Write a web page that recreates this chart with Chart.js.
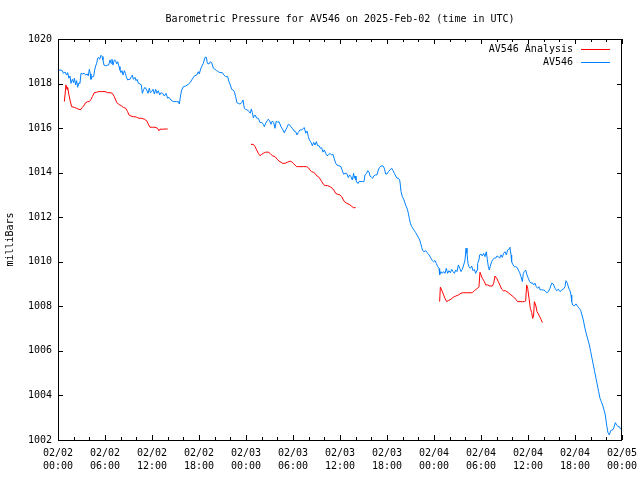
<!DOCTYPE html>
<html>
<head>
<meta charset="utf-8">
<title>Barometric Pressure AV546</title>
<script src="https://cdn.jsdelivr.net/npm/chart.js@4/dist/chart.umd.min.js"></script>
<style>
  html, body { margin: 0; padding: 0; background: #fff; }
  canvas { display: block; }
</style>
</head>
<body>
<canvas id="chart" width="640" height="480"></canvas>
<script>
// hours since 2025-02-02 00:00 UTC
const stationHours = [
  0.1, 0.26, 0.55, 0.68, 0.89, 1.1, 1.23, 1.4, 1.53, 1.66, 1.83, 2.0, 2.09, 2.26, 2.38, 2.51, 2.68, 2.8, 2.94, 3.1,
  3.36, 3.53, 3.74, 3.87, 4.0, 4.13, 4.21, 4.38, 4.55, 4.68, 4.81, 4.94, 5.06, 5.19, 5.32, 5.49, 5.62, 5.74, 5.87, 6.09,
  6.34, 6.47, 6.64, 6.77, 6.89, 7.02, 7.19, 7.36, 7.49, 7.62, 7.79, 7.91, 8.04, 8.17, 8.3, 8.47, 8.6, 8.72, 8.89, 9.06,
  9.19, 9.36, 9.49, 9.62, 9.83, 9.96, 10.1, 10.26, 10.47, 10.64, 10.77, 10.94, 11.11, 11.32, 11.49, 11.66, 11.79, 11.96, 12.13, 12.3,
  12.47, 12.64, 12.81, 12.98, 13.15, 13.36, 13.57, 13.79, 14.0, 14.17, 14.43, 14.72, 15.15, 15.36, 15.49, 15.66, 15.79, 16.0, 16.3, 16.64,
  16.85, 17.07, 17.4, 17.7, 17.91, 18.04, 18.17, 18.34, 18.55, 18.77, 18.94, 19.06, 19.28, 19.45, 19.62, 19.83, 20.04, 20.26, 20.47, 20.68,
  20.98, 21.19, 21.4, 21.66, 21.83, 22.0, 22.17, 22.34, 22.51, 22.68, 22.85, 23.02, 23.23, 23.45, 23.62, 23.79, 23.96, 24.21, 24.38, 24.55,
  24.68, 24.81, 24.94, 25.06, 25.15, 25.36, 25.57, 25.79, 26.0, 26.21, 26.34, 26.51, 26.68, 26.85, 27.02, 27.19, 27.36, 27.53, 27.7, 27.87,
  28.04, 28.21, 28.47, 28.72, 28.89, 29.06, 29.23, 29.4, 29.58, 29.75, 29.91, 30.13, 30.34, 30.51, 30.68, 30.89, 31.11, 31.32, 31.45, 31.62,
  31.79, 31.96, 32.09, 32.3, 32.47, 32.64, 32.81, 32.98, 33.15, 33.32, 33.49, 33.66, 33.83, 34.0, 34.17, 34.34, 34.51, 34.72, 34.94, 35.11,
  35.28, 35.45, 35.62, 35.87, 36.13, 36.3, 36.47, 36.64, 36.85, 37.06, 37.23, 37.4, 37.57, 37.74, 37.83, 37.92, 38.04, 38.17, 38.34, 38.43,
  38.85, 39.06, 39.19, 39.4, 39.53, 39.7, 39.83, 40.04, 40.17, 40.3, 40.55, 40.72, 40.89, 41.06, 41.23, 41.49, 41.66, 41.83, 42.0, 42.17,
  42.38, 42.6, 42.77, 42.94, 43.11, 43.28, 43.45, 43.62, 43.7, 43.79, 43.96, 44.13, 44.3, 44.47, 44.6, 44.72, 44.85, 44.98, 45.15, 45.32,
  45.49, 45.66, 45.83, 46.0, 46.17, 46.3, 46.43, 46.55, 46.72, 46.94, 47.11, 47.28, 47.45, 47.62, 47.79, 47.96, 48.13, 48.3, 48.47, 48.64,
  48.72, 48.89, 49.06, 49.23, 49.4, 49.57, 49.74, 49.91, 50.09, 50.26, 50.43, 50.6, 50.77, 50.94, 51.11, 51.28, 51.45, 51.62, 51.79, 51.96,
  52.09, 52.21, 52.34, 52.47, 52.64, 52.81, 52.98, 53.15, 53.32, 53.49, 53.57, 53.74, 53.83, 54.0, 54.17, 54.34, 54.51, 54.68, 54.81, 54.94,
  55.06, 55.19, 55.36, 55.53, 55.7, 55.87, 56.04, 56.21, 56.38, 56.55, 56.72, 56.89, 57.06, 57.23, 57.4, 57.57, 57.7, 57.83, 57.91, 58.09,
  58.26, 58.43, 58.6, 58.77, 58.94, 59.11, 59.28, 59.4, 59.53, 59.7, 59.87, 60.04, 60.21, 60.38, 60.55, 60.72, 60.89, 61.06, 61.23, 61.4,
  61.57, 61.75, 61.96, 62.17, 62.38, 62.6, 62.81, 63.02, 63.23, 63.45, 63.66, 63.87, 64.09, 64.3, 64.51, 64.72, 64.85, 65.02, 65.2, 65.36,
  65.49, 65.58, 65.7, 65.92, 66.13, 66.34, 66.55, 66.73, 66.89, 67.06, 67.19, 67.32, 67.49, 67.66, 67.83, 68.0, 68.17, 68.34, 68.51, 68.68,
  68.85, 69.02, 69.19, 69.36, 69.53, 69.7, 69.87, 70.04, 70.21, 70.38, 70.55, 70.72, 70.89, 71.06, 71.15, 71.32, 71.49, 71.66, 71.83
];
const stationPressure = [
  1018.6, 1018.61, 1018.58, 1018.46, 1018.52, 1018.38, 1018.49, 1018.24, 1018.34, 1018.01, 1018.19, 1018.04, 1018.24, 1017.94, 1018.13, 1017.83, 1018.04, 1018.0, 1018.46, 1018.43,
  1018.46, 1018.38, 1018.43, 1018.34, 1018.64, 1018.43, 1018.19, 1018.31, 1018.31, 1018.61, 1018.79, 1018.91, 1019.13, 1019.18, 1019.09, 1019.27, 1019.21, 1019.06, 1018.83, 1018.79,
  1018.83, 1018.83, 1019.06, 1018.91, 1019.09, 1018.83, 1019.06, 1019.03, 1018.88, 1018.98, 1018.76, 1018.61, 1018.49, 1018.58, 1018.38, 1018.58, 1018.46, 1018.31, 1018.16, 1018.19,
  1018.19, 1018.31, 1018.38, 1018.19, 1018.28, 1018.13, 1018.19, 1018.01, 1017.98, 1017.94, 1017.56, 1017.74, 1017.83, 1017.71, 1017.56, 1017.79, 1017.59, 1017.64, 1017.74, 1017.53,
  1017.74, 1017.56, 1017.68, 1017.49, 1017.59, 1017.56, 1017.44, 1017.56, 1017.34, 1017.38, 1017.26, 1017.19, 1017.19, 1017.19, 1017.08, 1017.49, 1017.71, 1017.86, 1017.89, 1017.97,
  1018.04, 1018.16, 1018.34, 1018.38, 1018.53, 1018.43, 1018.61, 1018.76, 1018.91, 1019.18, 1019.18, 1018.91, 1018.88, 1018.98, 1018.94, 1018.69, 1018.64, 1018.58, 1018.53, 1018.49,
  1018.49, 1018.38, 1018.31, 1018.31, 1018.08, 1017.94, 1017.74, 1017.71, 1017.64, 1017.41, 1017.14, 1017.11, 1017.08, 1017.14, 1017.26, 1016.89, 1016.84, 1016.81, 1016.74, 1016.67,
  1016.86, 1016.7, 1016.46, 1016.56, 1016.59, 1016.45, 1016.44, 1016.25, 1016.26, 1016.17, 1016.06, 1016.22, 1016.32, 1016.4, 1016.32, 1016.17, 1016.32, 1016.26, 1015.99, 1016.32,
  1016.26, 1016.29, 1016.06, 1015.92, 1015.79, 1015.92, 1016.02, 1016.17, 1016.14, 1016.06, 1015.99, 1015.87, 1015.84, 1015.69, 1015.81, 1015.92, 1015.92, 1015.99, 1016.02, 1015.77,
  1015.87, 1015.62, 1015.47, 1015.36, 1015.21, 1015.36, 1015.24, 1015.39, 1015.21, 1015.21, 1015.09, 1015.12, 1014.92, 1015.02, 1014.87, 1014.76, 1014.79, 1014.87, 1014.79, 1014.82,
  1014.61, 1014.42, 1014.34, 1014.31, 1014.27, 1014.08, 1013.93, 1013.97, 1013.97, 1013.78, 1013.9, 1013.82, 1013.67, 1013.97, 1013.75, 1013.85, 1013.67, 1013.55, 1013.52, 1013.6,
  1013.6, 1013.6, 1013.9, 1013.97, 1014.09, 1014.04, 1013.85, 1013.79, 1013.75, 1013.85, 1013.9, 1013.9, 1014.12, 1014.24, 1014.3, 1014.3, 1014.2, 1013.94, 1013.94, 1014.04,
  1014.12, 1014.2, 1014.09, 1013.97, 1013.85, 1013.75, 1013.75, 1013.67, 1013.45, 1013.15, 1012.92, 1012.81, 1012.63, 1012.47, 1012.36, 1012.18, 1011.95, 1011.73, 1011.58, 1011.5,
  1011.4, 1011.31, 1011.2, 1011.1, 1010.98, 1010.83, 1010.65, 1010.5, 1010.45, 1010.5, 1010.41, 1010.35, 1010.26, 1010.16, 1010.05, 1010.0, 1010.06, 1009.92, 1009.78, 1009.7,
  1009.41, 1009.56, 1009.48, 1009.56, 1009.48, 1009.71, 1009.48, 1009.6, 1009.51, 1009.66, 1009.56, 1009.48, 1009.63, 1009.56, 1009.86, 1009.71, 1009.56, 1009.66, 1009.86, 1010.08,
  1010.61, 1010.38, 1009.93, 1009.78, 1009.71, 1009.81, 1009.6, 1009.66, 1009.48, 1009.63, 1009.93, 1010.08, 1010.31, 1010.35, 1010.26, 1010.38, 1010.23, 1010.45, 1010.08, 1009.78,
  1009.63, 1009.81, 1010.0, 1010.11, 1010.16, 1010.16, 1010.26, 1010.23, 1010.16, 1010.31, 1010.2, 1010.38, 1010.45, 1010.31, 1010.53, 1010.56, 1010.65, 1010.31, 1010.0, 1009.86,
  1009.78, 1009.78, 1009.75, 1009.63, 1009.51, 1009.33, 1009.11, 1009.48, 1009.56, 1009.63, 1009.41, 1009.26, 1009.11, 1009.04, 1009.06, 1008.96, 1009.04, 1008.88, 1008.81, 1008.88,
  1008.73, 1008.75, 1008.73, 1008.7, 1008.61, 1008.66, 1008.81, 1009.04, 1009.0, 1008.81, 1008.7, 1008.77, 1008.66, 1008.73, 1008.77, 1008.88, 1009.15, 1009.04, 1008.81, 1008.7,
  1008.51, 1008.21, 1008.06, 1008.02, 1008.11, 1007.99, 1007.91, 1007.81, 1007.61, 1007.39, 1007.16, 1006.94, 1006.71, 1006.49, 1006.27, 1005.97, 1005.67, 1005.37, 1005.07, 1004.77,
  1004.47, 1004.17, 1003.87, 1003.72, 1003.57, 1003.35, 1003.12, 1002.67, 1002.33, 1002.23, 1002.42, 1002.45, 1002.48, 1002.67, 1002.78, 1002.67, 1002.6, 1002.6, 1002.48
];

// analysis runs, null = gap between runs
const analysisHours = [
  0.81, 1.02, 1.15, 1.23, 1.4, 1.53, 1.74, 2.09, 2.38, 2.68, 2.94, 3.11, 3.36, 3.53, 3.79, 4.0, 4.21, 4.38, 4.64, 4.94,
  5.23, 5.57, 6.0, 6.34, 6.64, 6.94, 7.19, 7.36, 7.53, 7.7, 7.91, 8.13, 8.34, 8.64, 8.89, 9.06, 9.32, 9.62, 9.83, 10.04,
  10.34, 10.68, 11.02, 11.32, 11.53, 11.74, 12.04, 12.38, 12.72, 12.89, 13.02, 13.32, 13.66, 14.0,
  19.0,
  24.64, 24.94, 25.15, 25.36, 25.57, 25.79, 26.0, 26.21, 26.51, 26.85, 27.06, 27.36, 27.7, 27.96, 28.21, 28.47, 28.64, 28.98, 29.32, 29.62,
  29.83, 30.04, 30.26, 30.47, 30.68, 31.02, 31.32, 31.75, 31.96, 32.17, 32.39, 32.59, 32.81, 33.03, 33.24, 33.45, 33.66, 33.87, 34.09, 34.43,
  34.72, 35.02, 35.28, 35.45, 35.71, 36.0, 36.22, 36.43, 36.64, 36.85, 37.15, 37.4, 37.7, 38.0,
  43.0,
  48.72, 48.81, 48.98, 49.19, 49.4, 49.62, 49.83, 50.17, 50.47, 50.77, 51.11, 51.45, 51.75, 52.17, 52.6, 52.89, 53.15, 53.4, 53.57, 53.74,
  53.87, 54.0, 54.17, 54.43, 54.6, 54.85, 55.15, 55.45, 55.62, 55.79, 56.0, 56.21, 56.47, 56.64, 56.85, 57.15, 57.49, 57.83, 58.13, 58.43,
  58.68, 58.98, 59.28, 59.53, 59.7, 59.83, 59.96, 60.13, 60.3, 60.47, 60.6, 60.72, 60.81, 60.98, 61.15, 61.32, 61.49, 61.66, 61.83
];
const analysisPressure = [
  1017.19, 1017.94, 1017.74, 1017.83, 1017.49, 1017.26, 1016.96, 1016.93, 1016.89, 1016.84, 1016.84, 1016.93, 1017.04, 1017.14, 1017.19, 1017.19, 1017.29, 1017.41, 1017.59, 1017.61,
  1017.64, 1017.64, 1017.64, 1017.59, 1017.59, 1017.56, 1017.41, 1017.26, 1017.14, 1017.08, 1017.04, 1016.99, 1016.93, 1016.89, 1016.74, 1016.59, 1016.54, 1016.51, 1016.51, 1016.49,
  1016.44, 1016.44, 1016.4, 1016.33, 1016.18, 1016.04, 1016.04, 1016.04, 1015.99, 1015.88, 1015.95, 1015.95, 1015.96, 1015.96,
  null,
  1015.27, 1015.27, 1015.17, 1015.02, 1014.87, 1014.76, 1014.82, 1014.87, 1014.92, 1014.92, 1014.87, 1014.76, 1014.72, 1014.61, 1014.52, 1014.47, 1014.42, 1014.42, 1014.47, 1014.52,
  1014.49, 1014.42, 1014.34, 1014.27, 1014.27, 1014.27, 1014.27, 1014.27, 1014.22, 1014.12, 1014.04, 1014.02, 1013.97, 1013.86, 1013.82, 1013.72, 1013.6, 1013.48, 1013.42, 1013.42,
  1013.37, 1013.3, 1013.18, 1013.07, 1013.03, 1013.0, 1012.92, 1012.77, 1012.67, 1012.63, 1012.58, 1012.52, 1012.43, 1012.43,
  null,
  1008.21, 1008.86, 1008.73, 1008.55, 1008.36, 1008.21, 1008.26, 1008.32, 1008.41, 1008.46, 1008.51, 1008.59, 1008.61, 1008.61, 1008.61, 1008.61, 1008.7, 1008.77, 1008.81, 1008.88,
  1009.53, 1009.41, 1009.26, 1009.11, 1008.96, 1008.96, 1008.91, 1008.91, 1009.04, 1009.36, 1009.26, 1009.11, 1008.91, 1008.77, 1008.7, 1008.7, 1008.61, 1008.51, 1008.43, 1008.32,
  1008.21, 1008.21, 1008.21, 1008.21, 1008.24, 1008.96, 1008.81, 1008.36, 1007.91, 1007.72, 1007.46, 1007.61, 1008.21, 1008.06, 1007.76, 1007.66, 1007.54, 1007.42, 1007.27
];

const tickDates = ['02/02', '02/02', '02/02', '02/02', '02/03', '02/03', '02/03', '02/03', '02/04', '02/04', '02/04', '02/04', '02/05'];
const tickTimes = ['00:00', '06:00', '12:00', '18:00', '00:00', '06:00', '12:00', '18:00', '00:00', '06:00', '12:00', '18:00', '00:00'];
const majorStep = 6;
const minorStep = 2;

const FONT = { family: 'DejaVu Sans Mono', size: 10, weight: 'normal' };

const toPoints = (xs, ys) => xs.map((h, i) => ({ x: h, y: ys[i] }));

// gnuplot style border with inward ticks, mirrored
const frame = {
  id: 'frame',
  afterDraw(chart) {
    const { ctx, chartArea: a, scales: { x, y } } = chart;
    ctx.save();
    ctx.strokeStyle = '#000';
    ctx.lineWidth = 1;
    ctx.beginPath();
    ctx.rect(a.left + 0.5, a.top + 0.5, a.right - a.left - 1, a.bottom - a.top);
    for (let h = x.min; h <= x.max; h += minorStep) {
      const px = Math.round(x.getPixelForValue(h)) + 0.5;
      const len = h % majorStep === 0 ? 5 : 3;
      ctx.moveTo(px, a.bottom); ctx.lineTo(px, a.bottom - len);
      ctx.moveTo(px, a.top); ctx.lineTo(px, a.top + len);
    }
    y.ticks.forEach(t => {
      const py = Math.round(y.getPixelForValue(t.value)) + 0.5;
      ctx.moveTo(a.left, py); ctx.lineTo(a.left + 5, py);
      ctx.moveTo(a.right, py); ctx.lineTo(a.right - 5, py);
    });
    ctx.stroke();

    // key, top right inside the plot
    ctx.font = `${FONT.size}px "${FONT.family}"`;
    ctx.textAlign = 'right';
    ctx.textBaseline = 'middle';
    chart.data.datasets.forEach((ds, i) => {
      const ky = a.top + 10 + i * 13;
      ctx.fillStyle = '#000';
      ctx.fillText(ds.label, a.right - 49, ky);
      ctx.strokeStyle = ds.borderColor;
      ctx.beginPath();
      ctx.moveTo(a.right - 41, ky + 0.5);
      ctx.lineTo(a.right - 12, ky + 0.5);
      ctx.stroke();
    });
    ctx.restore();
  }
};

new Chart(document.getElementById('chart'), {
  type: 'line',
  data: {
    datasets: [
      {
        label: 'AV546 Analysis',
        data: toPoints(analysisHours, analysisPressure),
        borderColor: '#ff0000',
        borderWidth: 1,
        pointRadius: 0,
        spanGaps: false
      },
      {
        label: 'AV546',
        data: toPoints(stationHours, stationPressure),
        borderColor: '#0080ff',
        borderWidth: 1,
        pointRadius: 0
      }
    ]
  },
  options: {
    responsive: false,
    animation: false,
    devicePixelRatio: 1,
    layout: { padding: { left: 0, right: 18, top: 0, bottom: 0 } },
    plugins: {
      legend: { display: false },
      tooltip: { enabled: false },
      title: {
        display: true,
        fullSize: false,
        text: 'Barometric Pressure for AV546 on 2025-Feb-02 (time in UTC)',
        color: '#000',
        font: FONT,
        padding: { top: 13, bottom: 14 }
      }
    },
    scales: {
      x: {
        type: 'linear',
        min: 0,
        max: 72,
        grid: { display: false, drawTicks: false },
        border: { display: false },
        ticks: {
          stepSize: majorStep,
          autoSkip: false,
          maxRotation: 0,
          padding: 7,
          color: '#000',
          font: { ...FONT, lineHeight: 1.3 },
          callback: v => [tickDates[v / majorStep], tickTimes[v / majorStep]]
        },
        afterFit: s => {
          s.height = 40;
          s.paddingLeft = 0;
          s.paddingRight = 0;
        }
      },
      y: {
        min: 1002,
        max: 1020,
        grid: { display: false, drawTicks: false },
        border: { display: false },
        ticks: {
          stepSize: 2,
          padding: 6,
          color: '#000',
          font: FONT,
          callback: v => String(v)
        },
        title: {
          display: true,
          text: 'milliBars',
          color: '#000',
          font: FONT,
          padding: { top: 4, bottom: 0 }
        },
        afterFit: s => {
          s.width = 58;
          s.paddingTop = 0;
          s.paddingBottom = 0;
        }
      }
    }
  },
  plugins: [frame]
});
</script>
</body>
</html>
